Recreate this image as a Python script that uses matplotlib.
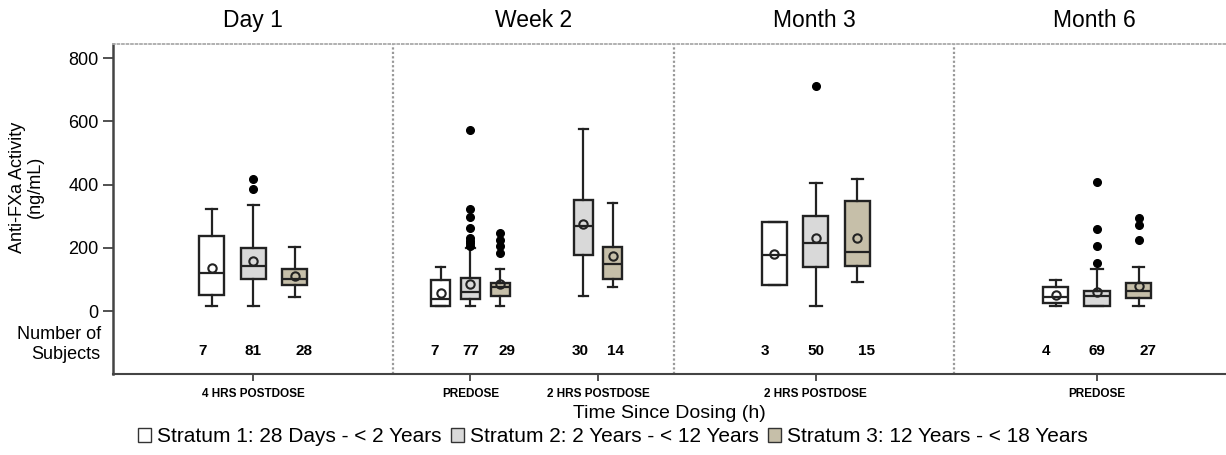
import matplotlib
matplotlib.use("Agg")
import matplotlib.pyplot as plt
from matplotlib.patches import Patch

plt.rcParams["font.family"] = ["Liberation Sans", "DejaVu Sans"]

visits = ["Day 1", "Week 2", "Month 3", "Month 6"]
strata = ["Stratum 1: 28 Days - < 2 Years", "Stratum 2: 2 Years - < 12 Years",
          "Stratum 3: 12 Years - < 18 Years"]
strata_colors = ["#ffffff", "#d9d9d9", "#c6bfa9"]

# one entry per time point: visit index, label, strata present
tp_visit = [0, 1, 1, 2, 3]
tp_labels = ["4 HRS POSTDOSE", "PREDOSE", "2 HRS POSTDOSE", "2 HRS POSTDOSE", "PREDOSE"]
tp_strata = [[0, 1, 2], [0, 1, 2], [1, 2], [0, 1, 2], [0, 1, 2]]
tp_counts = [[7, 81, 28], [7, 77, 29], [30, 14], [3, 50, 15], [4, 69, 27]]

# box summary values, listed per time point and stratum (ng/mL)
whislo = [[17, 17, 45], [16, 16, 16], [47, 77], [84, 17, 91], [17, 16, 17]]
q1 = [[50, 102, 82], [16, 37, 47], [177, 102], [84, 140, 142], [26, 16, 40]]
med = [[119, 143, 100], [37, 61, 75], [269, 148], [178, 217, 186], [45, 48, 63]]
q3 = [[237, 199, 134], [97, 105, 90], [353, 204], [282, 302, 347], [75, 65, 90]]
whishi = [[323, 336, 204], [139, 200, 132], [577, 342], [282, 406, 418], [98, 132, 141]]
means = [[137, 160, 110], [56, 86, 86], [275, 174], [180, 230, 230], [51, 59, 81]]
fliers = [
    [[], [417, 386], []],
    [[], [573, 323, 298, 264, 230, 222, 214, 206], [246, 225, 205, 185]],
    [[], []],
    [[], [713], []],
    [[], [407, 260, 206, 153], [295, 271, 226]],
]

# layout (x in panel units, one unit per visit)
tp_center = [0.50, 0.275, 0.73, 0.507, 0.51]
tp_spacing = [0.148, 0.106, 0.104, 0.148, 0.148]
tp_boxw = [0.09, 0.068, 0.066, 0.09, 0.092]
count_y = -126

fig = plt.figure(figsize=(12.26, 4.55), dpi=100)
ax = fig.add_axes([0.0922, 0.178, 0.9078, 0.7253])

for t in range(len(tp_visit)):
    n = len(tp_strata[t])
    base = tp_visit[t] + tp_center[t]
    pos = [base + (k - (n - 1) / 2) * tp_spacing[t] for k in range(n)]
    stats = []
    for k in range(n):
        stats.append(dict(med=med[t][k], q1=q1[t][k], q3=q3[t][k], whislo=whislo[t][k],
                          whishi=whishi[t][k], mean=means[t][k], fliers=fliers[t][k]))
    bp = ax.bxp(stats, positions=pos, widths=tp_boxw[t], patch_artist=True, showmeans=True,
                manage_ticks=False,
                boxprops=dict(edgecolor="#222222", linewidth=1.7),
                medianprops=dict(color="#222222", linewidth=1.6),
                whiskerprops=dict(color="#222222", linewidth=1.6),
                capprops=dict(color="#222222", linewidth=1.6),
                capwidths=tp_boxw[t] * 0.45,
                meanprops=dict(marker="o", markerfacecolor="none", markeredgecolor="#222222",
                               markeredgewidth=1.5, markersize=6),
                flierprops=dict(marker="o", markerfacecolor="black", markeredgecolor="black",
                                markersize=5.5))
    for k, box in enumerate(bp["boxes"]):
        box.set_facecolor(strata_colors[tp_strata[t][k]])
    for k in range(n):
        xc = base + (k - (n - 1) / 2) * tp_spacing[t] * 1.22
        ax.text(xc, count_y, str(tp_counts[t][k]), ha="center", va="center",
                fontsize=11, fontweight="bold")

ax.set_xlim(0, 3.97)
ax.set_ylim(-199, 845)
ax.set_yticks([0, 200, 400, 600, 800])
ax.tick_params(axis="y", labelsize=13, length=7, width=1.2, color="#333333")
ax.set_xticks([tp_visit[t] + tp_center[t] for t in range(len(tp_visit))])
ax.set_xticklabels(tp_labels, fontsize=8.5, fontweight="bold")
ax.tick_params(axis="x", length=5, width=1.2, color="#333333", pad=5)

for v in range(1, len(visits)):
    ax.axvline(v, color="#999999", linestyle=(0, (1, 1)), linewidth=1.6)
for v, name in enumerate(visits):
    ax.text(v + 0.5, 1.035, name, transform=ax.get_xaxis_transform(), ha="center",
            va="bottom", fontsize=16.5)

ax.spines["right"].set_visible(False)
ax.spines["top"].set_color("#aaaaaa")
ax.spines["top"].set_linestyle((0, (1, 1.5)))
ax.spines["top"].set_linewidth(1.3)
ax.spines["left"].set_color("#444444")
ax.spines["left"].set_linewidth(1.8)
ax.spines["bottom"].set_color("#444444")
ax.spines["bottom"].set_linewidth(1.5)

ax.set_ylabel("Anti-FXa Activity\n(ng/mL)", fontsize=13, linespacing=1.1)
ax.yaxis.set_label_coords(-0.062, 0.567)
ax.text(-0.011, -105, "Number of\nSubjects", transform=ax.get_yaxis_transform(),
        ha="right", va="center", fontsize=13, linespacing=1.2)
ax.set_xlabel("Time Since Dosing (h)", fontsize=14, labelpad=4)

handles = [Patch(facecolor=c, edgecolor="#333333", linewidth=1.0) for c in strata_colors]
fig.legend(handles, strata, loc="center", bbox_to_anchor=(0.5, 0.04), ncol=3, frameon=False,
           fontsize=15, handlelength=0.6, handleheight=0.6, handletextpad=0.3,
           columnspacing=0.45)

fig.savefig("out.png", dpi=100)
